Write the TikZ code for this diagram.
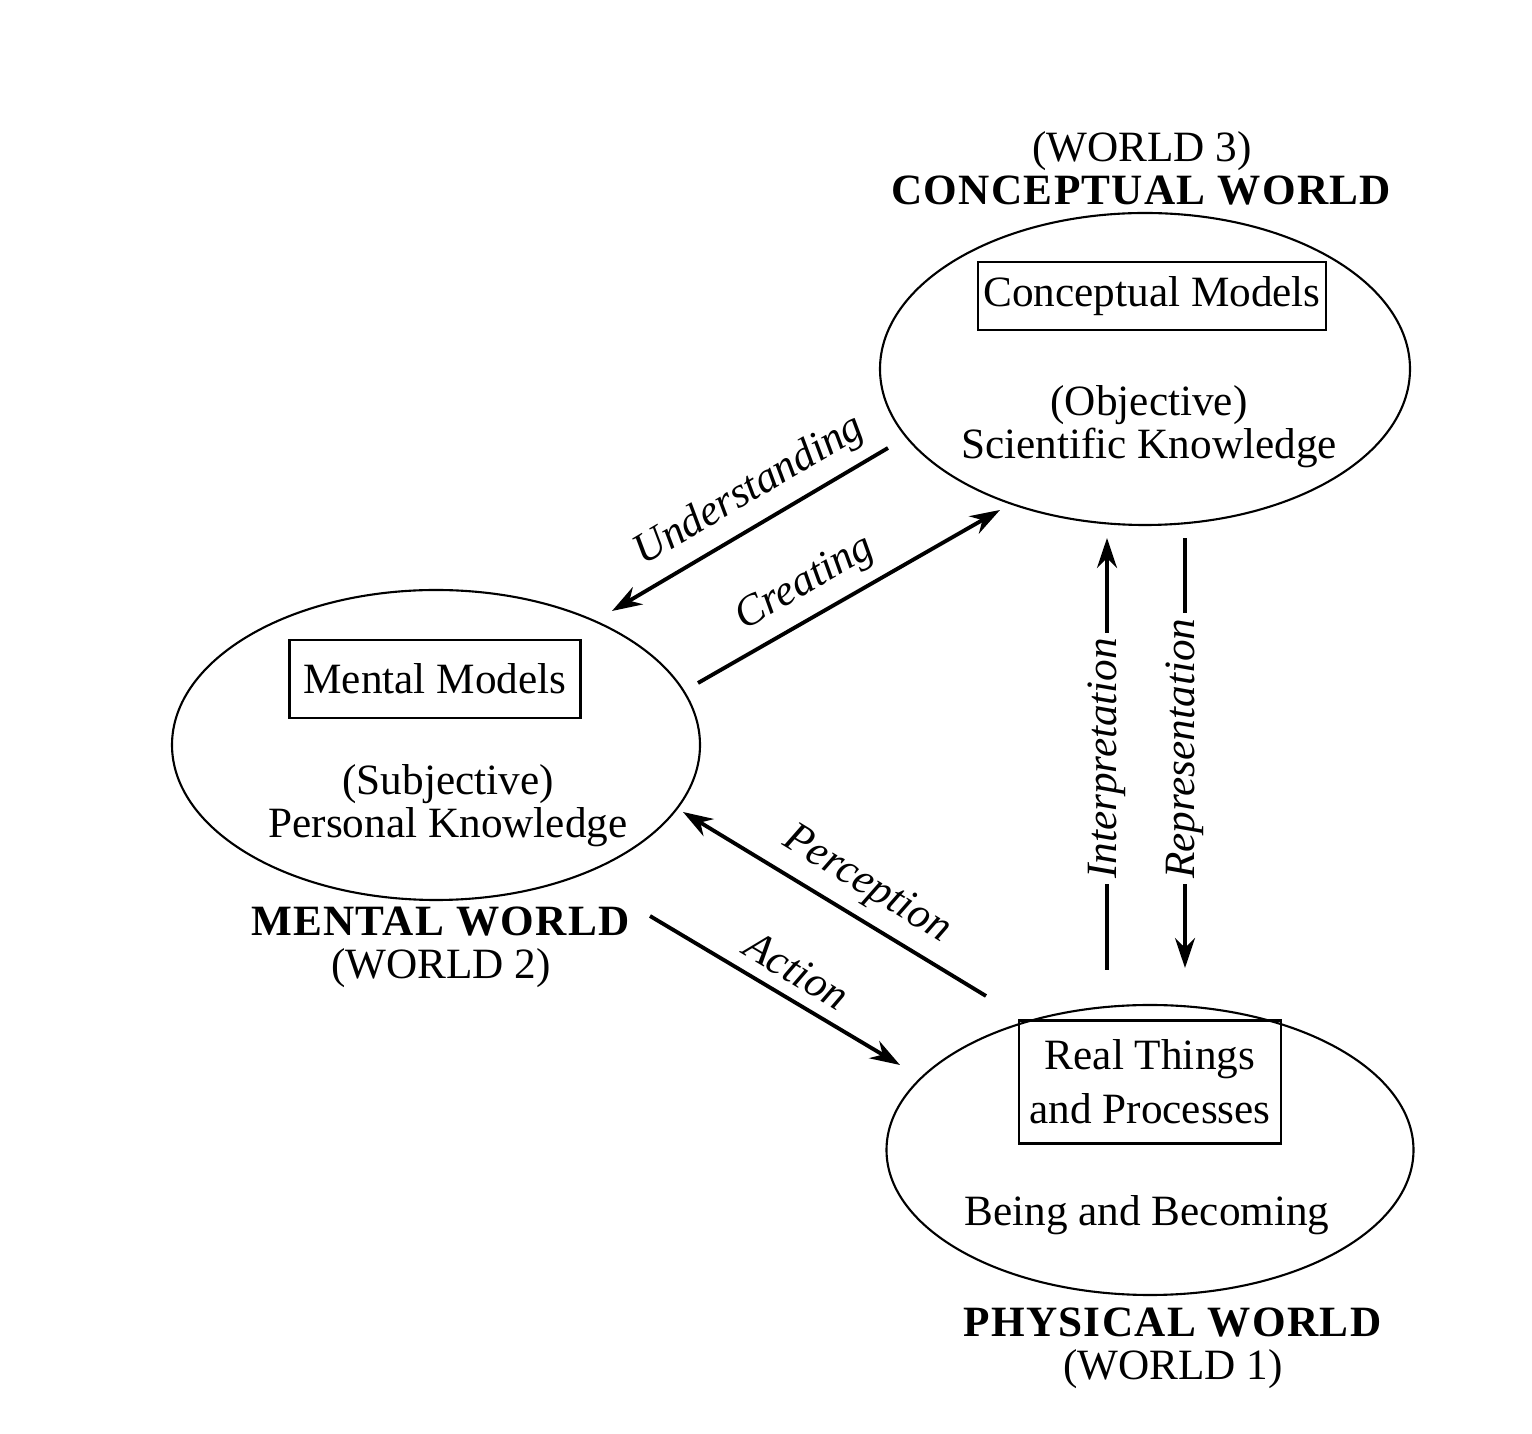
\documentclass[tikz,border=0pt]{standalone}
\usepackage{fontspec}
\setmainfont{Liberation Serif}[BoldFeatures={LetterSpace=3}]
\usetikzlibrary{positioning, arrows.meta, shapes.geometric}

\begin{document}
\begin{tikzpicture}[
  >={Stealth[length=3mm, width=2mm]},
  font=\fontsize{12.3}{12.3}\selectfont,
  world/.style={draw, ellipse, line width=0.6pt, inner sep=0pt},
  modelbox/.style={draw, rectangle, line width=0.8pt, align=center, inner sep=0pt},
  worldtext/.style={align=center, inner sep=0pt},
  worldname/.style={align=center, inner sep=0pt},
  arr/.style={line width=1.1pt},
  arrlabel/.style={font=\fontsize{12.3}{12.3}\selectfont\itshape, sloped},
  vlabel/.style={arrlabel, fill=white, inner xsep=1.5pt}
]
\useasboundingbox (0,0) rectangle (15.32,14.34);

% Conceptual world (World 3)
\node[world, minimum width=5.30cm, minimum height=3.12cm] (concept) at (11.45, 10.65) {};
\node[worldname] (ctitle) at (11.42, 12.66) {(WORLD 3)\\\textbf{CONCEPTUAL WORLD}};
\node[modelbox, minimum width=3.48cm, minimum height=0.68cm] (cbox) at (11.52, 11.38) {Conceptual Models};
\node[worldtext] (ctext) at (11.49, 10.07) {(Objective)\\Scientific Knowledge};

% Mental world (World 2)
\node[world, minimum width=5.28cm, minimum height=3.10cm] (mental) at (4.36, 6.89) {};
\node[modelbox, minimum width=2.91cm, minimum height=0.78cm] (mbox) at (4.35, 7.55) {Mental Models};
\node[worldtext] (mtext) at (4.48, 6.28) {(Subjective)\\Personal Knowledge};
\node[worldname] (mtitle) at (4.41, 4.87) {\textbf{MENTAL WORLD}\\(WORLD 2)};

% Physical world (World 1)
\node[world, minimum width=5.27cm, minimum height=2.90cm] (physical) at (11.50, 2.84) {};
\node[modelbox, minimum width=2.62cm, minimum height=1.23cm] (pbox) at (11.50, 3.52) {Real Things\\[3pt]and Processes};
\node[worldtext] (ptext) at (11.47, 2.19) {Being and Becoming};
\node[worldname] (ptitle) at (11.73, 0.86) {\textbf{PHYSICAL WORLD}\\(WORLD 1)};

% Arrow ends
\coordinate (und-tip) at (6.12, 8.23);
\coordinate (und-tail) at (8.88, 9.86);
\coordinate (cre-tail) at (6.98, 7.51);
\coordinate (cre-tip) at (10.00, 9.24);
\coordinate (per-tip) at (6.83, 6.22);
\coordinate (per-tail) at (9.86, 4.38);
\coordinate (act-tail) at (6.50, 5.18);
\coordinate (act-tip) at (9.00, 3.69);
\coordinate (int-tail) at (11.07, 4.64);
\coordinate (int-tip) at (11.07, 8.96);
\coordinate (rep-tail) at (11.85, 8.96);
\coordinate (rep-tip) at (11.85, 4.66);

% Arrows + labels
\draw[arr, <-] (und-tip) -- node[arrlabel, above, pos=0.56] {Understanding} (und-tail);
\draw[arr, ->] (cre-tail) -- node[arrlabel, above, pos=0.41] {Creating} (cre-tip);
\draw[arr, <-] (per-tip) -- node[arrlabel, above, pos=0.55] {Perception} (per-tail);
\draw[arr, ->] (act-tail) -- node[arrlabel, above, pos=0.53] {Action} (act-tip);
\draw[arr, ->] (int-tail) -- node[vlabel, pos=0.49] {Interpretation} (int-tip);
\draw[arr, <-] (rep-tip) -- node[vlabel, pos=0.51] {Representation} (rep-tail);

\end{tikzpicture}
\end{document}
